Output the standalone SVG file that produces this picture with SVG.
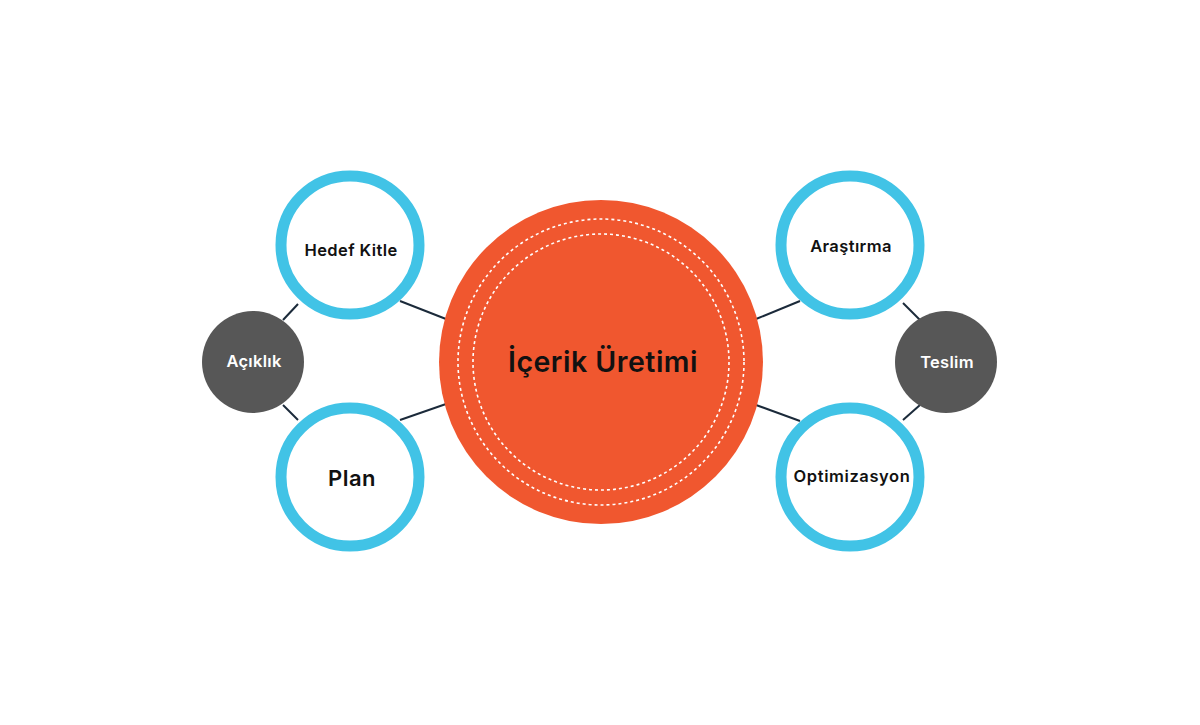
<svg xmlns="http://www.w3.org/2000/svg" width="1200" height="725" viewBox="0 0 1200 725">
<style>
.b{fill:#fff;stroke:#41c3e6;stroke-width:11}
.g{fill:#575757}
.t{font-family:Inter,"Open Sans",sans-serif;font-weight:600;text-anchor:middle;dominant-baseline:central}
.l{stroke:#1b2a3a;stroke-width:2}
.d{fill:none;stroke:#fff;stroke-width:1.6;stroke-dasharray:3 3}
</style>
<rect width="1200" height="725" fill="#fff"/>
<g id="connectors">
<line class="l" x1="400" y1="301" x2="446" y2="319"/>
<line class="l" x1="400" y1="420" x2="446" y2="404"/>
<line class="l" x1="283" y1="320" x2="298" y2="304"/>
<line class="l" x1="283" y1="405" x2="298" y2="420"/>
<line class="l" x1="756" y1="319" x2="800" y2="301"/>
<line class="l" x1="756" y1="405" x2="800" y2="421"/>
<line class="l" x1="903" y1="303" x2="920" y2="320"/>
<line class="l" x1="903" y1="420" x2="920" y2="405"/>
</g>
<g id="center">
<circle cx="601" cy="362" r="162" fill="#f0572f"/>
<circle class="d" cx="601" cy="362" r="143"/>
<circle class="d" cx="601" cy="362" r="128"/>
<text class="t" x="603" y="361" font-size="28.5" fill="#111" letter-spacing="0.5">İçerik Üretimi</text>
</g>
<g id="hedef"><circle class="b" cx="350" cy="245" r="69"/><text class="t" x="351" y="250" font-size="16.5" fill="#111" letter-spacing="0.4">Hedef Kitle</text></g>
<g id="plan"><circle class="b" cx="350" cy="477" r="69"/><text class="t" x="352" y="478" font-size="22" fill="#111" letter-spacing="0.5">Plan</text></g>
<g id="arastirma"><circle class="b" cx="850" cy="245" r="69"/><text class="t" x="851" y="246" font-size="16.5" fill="#111" letter-spacing="0.4">Araştırma</text></g>
<g id="optimizasyon"><circle class="b" cx="850" cy="477" r="69"/><text class="t" x="852" y="476" font-size="16.5" fill="#111" letter-spacing="0.6">Optimizasyon</text></g>
<g id="aciklik"><circle class="g" cx="253" cy="362" r="51"/><text class="t" x="254" y="361" font-size="16.5" fill="#fff" letter-spacing="0.3">Açıklık</text></g>
<g id="teslim"><circle class="g" cx="946" cy="362" r="51"/><text class="t" x="947" y="362" font-size="16.5" fill="#fff" letter-spacing="0.3">Teslim</text></g>
</svg>
